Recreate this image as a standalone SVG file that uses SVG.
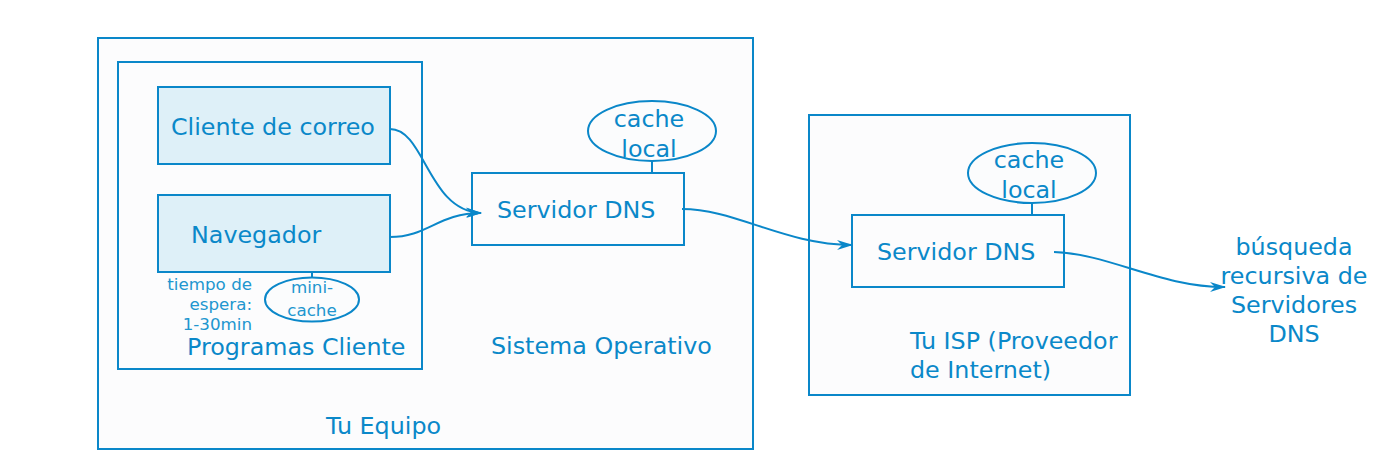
<svg xmlns="http://www.w3.org/2000/svg" width="1376" height="462" viewBox="0 0 1376 462">
<style>
text{font-family:"DejaVu Sans","Liberation Sans",sans-serif;fill:#0a88c9}
.t{font-size:23.8px}
.s{font-size:16.7px;fill:#2196cf}
.box{fill:#fcfcfd;stroke:#0a87c9;stroke-width:2}
.cl{fill:#def0f8;stroke:#0a87c9;stroke-width:2}
.el{fill:#fbfcfd;stroke:#0a87c9;stroke-width:2}
.ln{fill:none;stroke:#0a87c9;stroke-width:2}
.c{text-anchor:middle}
.e{text-anchor:end}
</style>
<defs>
<marker id="ar" viewBox="0 0 16 10" refX="15" refY="5" markerWidth="16" markerHeight="10" markerUnits="userSpaceOnUse" orient="auto">
<path d="M0,0 L16,5 L0,10 L5,5 z" fill="#0a87c9"/>
</marker>
</defs>
<rect width="1376" height="462" fill="#ffffff"/>
<g id="tu-equipo">
<rect class="box" x="98" y="38" width="655" height="411"/>
<text class="t" x="326" y="434">Tu Equipo</text>
</g>
<g id="sistema-operativo">
<text class="t" x="491" y="354">Sistema Operativo</text>
</g>
<g id="programas-cliente">
<rect class="box" x="118" y="62" width="304" height="307"/>
<text class="t" x="187" y="355">Programas Cliente</text>
</g>
<g id="cliente-correo">
<rect class="cl" x="158" y="87" width="232" height="77"/>
<text class="t" x="171" y="135">Cliente de correo</text>
</g>
<g id="navegador">
<rect class="cl" x="158" y="195" width="232" height="77"/>
<text class="t" x="191" y="243">Navegador</text>
</g>
<g id="tiempo-espera">
<text class="s e" x="252" y="290">tiempo de</text>
<text class="s e" x="252" y="310">espera:</text>
<text class="s e" x="252" y="330">1-30min</text>
</g>
<g id="mini-cache">
<line class="ln" x1="312" y1="272" x2="312" y2="278"/>
<ellipse class="el" cx="312" cy="299.5" rx="47" ry="22"/>
<text class="s c" x="312" y="293">mini-</text>
<text class="s c" x="312" y="316">cache</text>
</g>
<g id="servidor-dns-1">
<rect class="box" x="472" y="173" width="212" height="72"/>
<text class="t" x="497" y="218">Servidor DNS</text>
</g>
<g id="cache-local-1">
<line class="ln" x1="652" y1="161" x2="652" y2="173"/>
<ellipse class="el" cx="652" cy="131" rx="64" ry="30"/>
<text class="t c" x="649" y="127">cache</text>
<text class="t c" x="649" y="157">local</text>
</g>
<g id="tu-isp">
<rect class="box" x="809" y="115" width="321" height="280"/>
<text class="t" x="910" y="349">Tu ISP (Proveedor</text>
<text class="t" x="910" y="378">de Internet)</text>
</g>
<g id="servidor-dns-2">
<rect class="box" x="852" y="215" width="212" height="72"/>
<text class="t" x="877" y="260">Servidor DNS</text>
</g>
<g id="cache-local-2">
<line class="ln" x1="1032" y1="203" x2="1032" y2="215"/>
<ellipse class="el" cx="1032" cy="173" rx="64" ry="30"/>
<text class="t c" x="1029" y="168">cache</text>
<text class="t c" x="1029" y="198">local</text>
</g>
<g id="busqueda">
<text class="t c" x="1294" y="255">búsqueda</text>
<text class="t c" x="1294" y="284">recursiva de</text>
<text class="t c" x="1294" y="313">Servidores</text>
<text class="t c" x="1294" y="342">DNS</text>
</g>
<g id="connectors">
<path class="ln" marker-end="url(#ar)" d="M390,129 C425,129 428,211 481,213"/>
<path class="ln" marker-end="url(#ar)" d="M390,237 C428,237 438,213 481,213"/>
<path class="ln" marker-end="url(#ar)" d="M682,209 C735,209 785,245 852,245"/>
<path class="ln" marker-end="url(#ar)" d="M1054,252 C1110,254 1160,287 1225,287"/>
</g>
</svg>
